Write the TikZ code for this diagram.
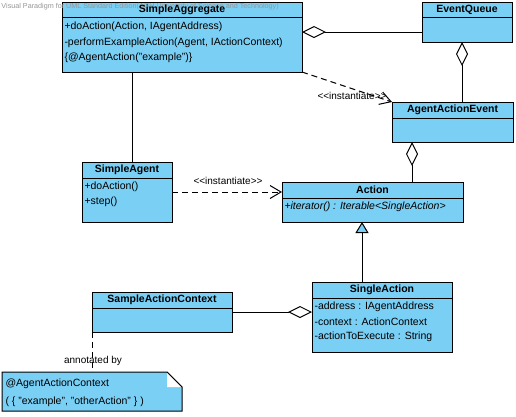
\documentclass[tikz,border=0pt]{standalone}
\usepackage{fontspec}
\setmainfont{Liberation Sans}
\usetikzlibrary{arrows.meta,calc}
\definecolor{vpblue}{RGB}{122,207,245}
\definecolor{wmgray}{RGB}{150,150,150}
\begin{document}
\begin{tikzpicture}[x=1pt,y=-1pt,line width=1pt,
  cls/.style={draw,fill=vpblue,anchor=north west,inner sep=0pt,outer sep=0pt},
  ttl/.style={font=\fontsize{10.5}{12}\selectfont\bfseries,inner sep=0pt,anchor=center},
  mem/.style={font=\fontsize{10.5}{12}\selectfont,inner sep=0pt,anchor=west},
  lbl/.style={font=\fontsize{10}{12}\selectfont,inner sep=0pt,anchor=center},
  aggr/.style={{Diamond[open,fill=white,length=24pt,width=12pt]}-},
  aggrend/.style={-{Diamond[open,fill=white,length=24pt,width=12pt]}},
  dep/.style={dash pattern=on 6pt off 4pt,-{Straight Barb[length=11pt,width=13pt,line width=1pt]}},
  gen/.style={-{Triangle[fill=vpblue,length=11pt,width=13pt]}}]
\useasboundingbox (0,0) rectangle (516,416);
\fill[white] (0,0) rectangle (516,416);

% class boxes
\node[cls,minimum width=240,minimum height=70] (SA) at (62,2) {};
\node[cls,minimum width=90,minimum height=40] (EQ) at (422,2) {};
\node[cls,minimum width=121,minimum height=40] (AAE) at (392,102) {};
\node[cls,minimum width=90,minimum height=60] (SAg) at (82,162) {};
\node[cls,minimum width=181,minimum height=40] (Act) at (282,182) {};
\node[cls,minimum width=140,minimum height=70] (SiA) at (312,282) {};
\node[cls,minimum width=140,minimum height=40] (SAC) at (92,292) {};

% watermark
\node[font=\fontsize{7.2}{8}\selectfont,text=wmgray,inner sep=0pt,anchor=west] (wm) at (1,7)
  {Visual Paradigm for UML Standard Edition(AGH University of Science and Technology)};

% dividers
\foreach \n in {SA,EQ} {\draw ([yshift=-15pt]\n.north west) -- ([yshift=-15pt]\n.north east);}
\foreach \n in {AAE,SAg,Act,SiA,SAC} {\draw ([yshift=-16pt]\n.north west) -- ([yshift=-16pt]\n.north east);}

% titles
\node[ttl] (SAt) at ([yshift=-8pt]SA.north) {SimpleAggregate};
\node[ttl] (EQt) at ([yshift=-8pt]EQ.north) {EventQueue};
\node[ttl] (AAEt) at ([yshift=-8pt]AAE.north) {AgentActionEvent};
\node[ttl] (SAgt) at ([yshift=-8pt]SAg.north) {SimpleAgent};
\node[ttl] (Actt) at ([yshift=-8pt]Act.north) {Action};
\node[ttl] (SiAt) at ([yshift=-8pt]SiA.north) {SingleAction};
\node[ttl] (SACt) at ([yshift=-8pt]SAC.north) {SampleActionContext};

% members
\node[mem] (SA1) at ([xshift=2pt,yshift=-25pt]SA.north west) {+doAction(Action, IAgentAddress)};
\node[mem] (SA2) at ([xshift=2pt,yshift=-41pt]SA.north west) {-performExampleAction(Agent, IActionContext)};
\node[mem] (SA3) at ([xshift=2pt,yshift=-56pt]SA.north west) {\{@AgentAction("example")\}};
\node[mem] (SAg1) at ([xshift=2pt,yshift=-25pt]SAg.north west) {+doAction()};
\node[mem] (SAg2) at ([xshift=2pt,yshift=-40pt]SAg.north west) {+step()};
\node[mem] (Act1) at ([xshift=2pt,yshift=-25pt]Act.north west) {\itshape +iterator() : Iterable<SingleAction>};
\node[mem] (SiA1) at ([xshift=2pt,yshift=-25pt]SiA.north west) {-address : IAgentAddress};
\node[mem] (SiA2) at ([xshift=2pt,yshift=-40pt]SiA.north west) {-context : ActionContext};
\node[mem] (SiA3) at ([xshift=2pt,yshift=-55pt]SiA.north west) {-actionToExecute : String};

% note
\node[anchor=north west,minimum width=180,minimum height=39,inner sep=0pt,outer sep=0pt] (note) at (2,372) {};
\filldraw[fill=vpblue] (note.north west) -- ([xshift=-15pt]note.north east) -- ([yshift=-15pt]note.north east) -- (note.south east) -- (note.south west) -- cycle;
\fill[white] ([xshift=-15pt]note.north east) -- ([yshift=-15pt]note.north east) -- ([xshift=-15pt,yshift=-15pt]note.north east) -- cycle;
\draw ([xshift=-15pt]note.north east) -- ([yshift=-15pt]note.north east);
\node[mem] (n1) at ([xshift=3pt,yshift=-12pt]note.north west) {@AgentActionContext};
\node[mem] (n2) at ([xshift=3pt,yshift=-30pt]note.north west) {( \{ "example", "otherAction" \} )};

% connectors
\draw[aggr] ([yshift=-30pt]SA.north east) -- ([yshift=-30pt]EQ.north west);
\coordinate (eqd) at ([xshift=-5pt]EQ.south);
\draw[aggr] (eqd) -- (eqd |- AAE.north);
\coordinate (aad) at ([xshift=-40.5pt]AAE.south);
\draw[aggr] (aad) -- (aad |- Act.north);
\coordinate (sab) at ([xshift=-50pt]SA.south);
\draw (sab) -- (sab |- SAg.north);
\draw[dep] (SA.south east) -- (AAE.north west);
\node[lbl] (i1) at (352,96) {<{}<instantiate>{}>};
\draw[dep] (SAg.east) -- (SAg.east -| Act.west);
\node[lbl] (i2) at (228,181) {<{}<instantiate>{}>};
\coordinate (sig) at ([xshift=-20pt]SiA.north);
\draw[gen] (sig) -- (sig |- Act.south);
\coordinate (sac) at ([yshift=-20pt]SAC.north east);
\draw[aggrend] (sac) -- (sac -| SiA.west);
\draw[dash pattern=on 6pt off 4pt] (SAC.south west) -- (SAC.south west |- note.north);
\node[lbl] (ab) at (93,361) {annotated by};
\end{tikzpicture}
\end{document}
